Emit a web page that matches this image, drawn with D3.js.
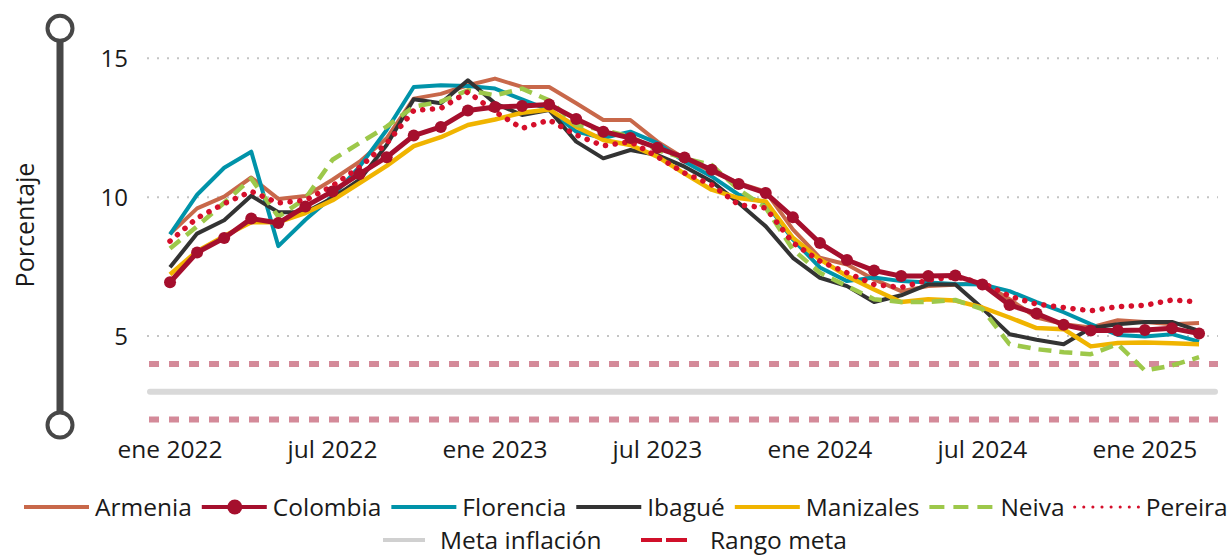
<!DOCTYPE html>
<html>
<head>
<meta charset="utf-8">
<script src="https://cdn.jsdelivr.net/npm/d3@7"></script>
<style>
  body { margin: 0; background: #fff; }
  svg { display: block; font-family: "Open Sans", sans-serif; }
</style>
</head>
<body>
<script>
var svgWidth = 1228;
var svgHeight = 556;

// months from ene 2022 to mar 2025
var months = d3.range(39);
var tickMonths = [0, 6, 12, 18, 24, 30, 36];
var tickLabels = ["ene 2022", "jul 2022", "ene 2023", "jul 2023", "ene 2024", "jul 2024", "ene 2025"];
var yTicks = [5, 10, 15];
var metaValue = 3;
var rangoValues = [2, 4];

var armenia = [8.68, 9.6, 10.02, 10.71, 9.94, 10.04, 10.63, 11.28, 12.12, 13.55, 13.72, 14.03, 14.27, 13.97, 13.97, 13.38, 12.78, 12.78, 12.0, 11.4, 10.93, 10.51, 10.2, 8.84, 7.82, 7.58, 7.04, 6.62, 6.8, 6.85, 6.92, 6.33, 5.67, 5.43, 5.31, 5.57, 5.51, 5.43, 5.47];
var colombia = [6.94, 8.01, 8.53, 9.23, 9.07, 9.67, 10.21, 10.84, 11.44, 12.22, 12.53, 13.12, 13.25, 13.28, 13.34, 12.82, 12.36, 12.13, 11.78, 11.43, 10.99, 10.48, 10.15, 9.28, 8.35, 7.74, 7.36, 7.16, 7.16, 7.18, 6.86, 6.12, 5.81, 5.41, 5.20, 5.20, 5.22, 5.28, 5.09];
var florencia = [8.66, 10.09, 11.06, 11.64, 8.24, 9.19, 10.03, 11.1, 12.42, 13.97, 14.03, 14.0, 13.91, 13.52, 13.14, 12.36, 12.13, 12.36, 11.95, 11.28, 10.75, 10.09, 9.8, 8.48, 7.47, 6.98, 7.11, 6.98, 6.93, 6.88, 6.86, 6.62, 6.22, 5.86, 5.43, 5.04, 4.99, 5.07, 4.8];
var ibague = [7.48, 8.69, 9.17, 10.05, 9.46, 9.46, 9.97, 10.63, 11.88, 13.53, 13.38, 14.21, 13.38, 12.96, 13.14, 12.0, 11.4, 11.7, 11.52, 11.1, 10.57, 9.79, 8.95, 7.82, 7.1, 6.8, 6.23, 6.47, 6.86, 6.86, 6.0, 5.07, 4.87, 4.71, 5.29, 5.43, 5.51, 5.51, 5.19];
var manizales = [7.22, 8.06, 8.6, 9.1, 9.1, 9.43, 9.89, 10.51, 11.13, 11.84, 12.16, 12.6, 12.8, 13.04, 13.16, 12.54, 12.06, 11.88, 11.46, 10.85, 10.27, 9.97, 9.85, 8.54, 7.76, 7.16, 6.68, 6.23, 6.33, 6.28, 6.03, 5.67, 5.29, 5.25, 4.63, 4.75, 4.77, 4.74, 4.71];
var neiva = [8.15, 8.95, 9.8, 10.67, 9.3, 9.95, 11.35, 11.95, 12.54, 13.26, 13.44, 13.85, 13.67, 13.91, 13.49, 12.6, 12.42, 12.18, 11.7, 11.4, 11.16, 10.27, 9.62, 8.12, 7.28, 6.8, 6.33, 6.23, 6.23, 6.3, 5.97, 4.71, 4.53, 4.42, 4.35, 4.71, 3.76, 3.94, 4.24];
var pereira = [8.42, 9.25, 9.77, 10.21, 9.79, 9.89, 10.41, 11.08, 11.94, 13.12, 13.2, 13.79, 13.08, 12.48, 12.78, 12.24, 11.85, 12.0, 11.46, 10.87, 10.45, 9.73, 9.61, 8.36, 7.7, 7.28, 6.86, 6.75, 7.02, 7.13, 6.92, 6.44, 6.15, 6.03, 5.91, 6.06, 6.11, 6.3, 6.23];

var series = [
  { name: "Armenia", values: armenia, color: "#C8684A", width: 4 },
  { name: "Florencia", values: florencia, color: "#0093A9", width: 4 },
  { name: "Ibagué", values: ibague, color: "#333333", width: 4 },
  { name: "Manizales", values: manizales, color: "#F0B400", width: 4.5 },
  { name: "Neiva", values: neiva, color: "#9DC84A", width: 4.5, dash: "13 8" },
  { name: "Pereira", values: pereira, color: "#D50F2B", width: 5.5, dash: "0.1 9.7", cap: "round" },
  { name: "Colombia", values: colombia, color: "#A50F2D", width: 5, markers: true }
];

var svg = d3.select("body")
  .append("svg")
  .attr("width", svgWidth)
  .attr("height", svgHeight);

var x = d3.scaleLinear().domain([-0.85, 38.7]).range([147, 1218]);
var y = d3.scaleLinear().domain([1.8, 16.2]).range([425, 25]);

// decorative left axis
svg.append("line")
  .attr("x1", 60).attr("x2", 60)
  .attr("y1", y(16.2)).attr("y2", y(1.8))
  .attr("stroke", "#474747").attr("stroke-width", 7);
svg.selectAll(".endcap")
  .data([16.08, 1.8])
  .enter()
  .append("circle")
  .attr("cx", 60)
  .attr("cy", d => y(d))
  .attr("r", 12.5)
  .attr("fill", "#fff")
  .attr("stroke", "#474747")
  .attr("stroke-width", 4);

svg.append("text")
  .attr("transform", "translate(34," + y(9) + ") rotate(-90)")
  .attr("text-anchor", "middle")
  .attr("font-size", 25)
  .attr("fill", "#1a1a1a")
  .text("Porcentaje");

// grid
svg.selectAll(".grid")
  .data(yTicks)
  .enter()
  .append("line")
  .attr("x1", x.range()[0]).attr("x2", x.range()[1])
  .attr("y1", d => y(d)).attr("y2", d => y(d))
  .attr("stroke", "#c4c4c4")
  .attr("stroke-width", 2)
  .attr("stroke-dasharray", "2 8");

svg.selectAll(".ylab")
  .data(yTicks)
  .enter()
  .append("text")
  .attr("x", 128)
  .attr("y", d => y(d))
  .attr("dy", "0.36em")
  .attr("text-anchor", "end")
  .attr("font-size", 24)
  .attr("fill", "#1a1a1a")
  .text(d => d);

// x labels
svg.selectAll(".xlab")
  .data(tickMonths)
  .enter()
  .append("text")
  .attr("x", d => x(d))
  .attr("y", 458)
  .attr("text-anchor", "middle")
  .attr("font-size", 24.5)
  .attr("fill", "#1a1a1a")
  .text((d, i) => tickLabels[i]);

// meta and rango
svg.append("line")
  .attr("x1", x.range()[0] + 3).attr("x2", x.range()[1] - 3)
  .attr("y1", y(metaValue)).attr("y2", y(metaValue))
  .attr("stroke", "#D9D9D9")
  .attr("stroke-width", 6)
  .attr("stroke-linecap", "round");

svg.selectAll(".rango")
  .data(rangoValues)
  .enter()
  .append("line")
  .attr("x1", 149).attr("x2", x.range()[1])
  .attr("y1", d => y(d)).attr("y2", d => y(d))
  .attr("stroke", "#D48A99")
  .attr("stroke-width", 6)
  .attr("stroke-dasharray", "10 10");

var line = d3.line()
  .x((d, i) => x(i))
  .y(d => y(d));

series.forEach(function(s) {
  svg.append("path")
    .datum(s.values)
    .attr("fill", "none")
    .attr("stroke", s.color)
    .attr("stroke-width", s.width)
    .attr("stroke-linejoin", "round")
    .attr("stroke-linecap", s.cap || "butt")
    .attr("stroke-dasharray", s.dash || null)
    .attr("d", line);
  if (s.markers) {
    svg.selectAll(".mk")
      .data(s.values)
      .enter()
      .append("circle")
      .attr("cx", (d, i) => x(i))
      .attr("cy", d => y(d))
      .attr("r", 6)
      .attr("fill", s.color);
  }
});

// legend
var legendOrder = ["Armenia", "Colombia", "Florencia", "Ibagué", "Manizales", "Neiva", "Pereira"];
var legend = svg.append("g");
var lx = 24;
var ly = 507;
legendOrder.forEach(function(name) {
  var s = series.find(d => d.name === name);
  legend.append("line")
    .attr("x1", lx).attr("x2", lx + 65)
    .attr("y1", ly).attr("y2", ly)
    .attr("stroke", s.color)
    .attr("stroke-width", s.name === "Pereira" ? 3 : 4)
    .attr("stroke-linecap", s.cap || "butt")
    .attr("stroke-dasharray", s.name === "Pereira" ? "0.1 9" : (s.dash ? "15 9" : null));
  if (s.markers) {
    legend.append("circle").attr("cx", lx + 33).attr("cy", ly).attr("r", 7.5).attr("fill", s.color);
  }
  var t = legend.append("text")
    .attr("x", lx + 71)
    .attr("y", ly)
    .attr("dy", "0.36em")
    .attr("font-size", 24.5)
    .attr("fill", "#1a1a1a")
    .text(name);
  lx = lx + 71 + t.node().getComputedTextLength() + 10;
});

legend.append("line")
  .attr("x1", 383).attr("x2", 425)
  .attr("y1", 540).attr("y2", 540)
  .attr("stroke", "#D0D0D0").attr("stroke-width", 4);
legend.append("text")
  .attr("x", 440).attr("y", 540).attr("dy", "0.36em")
  .attr("font-size", 24.5).attr("fill", "#1a1a1a")
  .text("Meta inflación");
legend.append("line")
  .attr("x1", 641).attr("x2", 689)
  .attr("y1", 540).attr("y2", 540)
  .attr("stroke", "#D0102A").attr("stroke-width", 4)
  .attr("stroke-dasharray", "21 4");
legend.append("text")
  .attr("x", 710).attr("y", 540).attr("dy", "0.36em")
  .attr("font-size", 24.5).attr("fill", "#1a1a1a")
  .text("Rango meta");
</script>
</body>
</html>
